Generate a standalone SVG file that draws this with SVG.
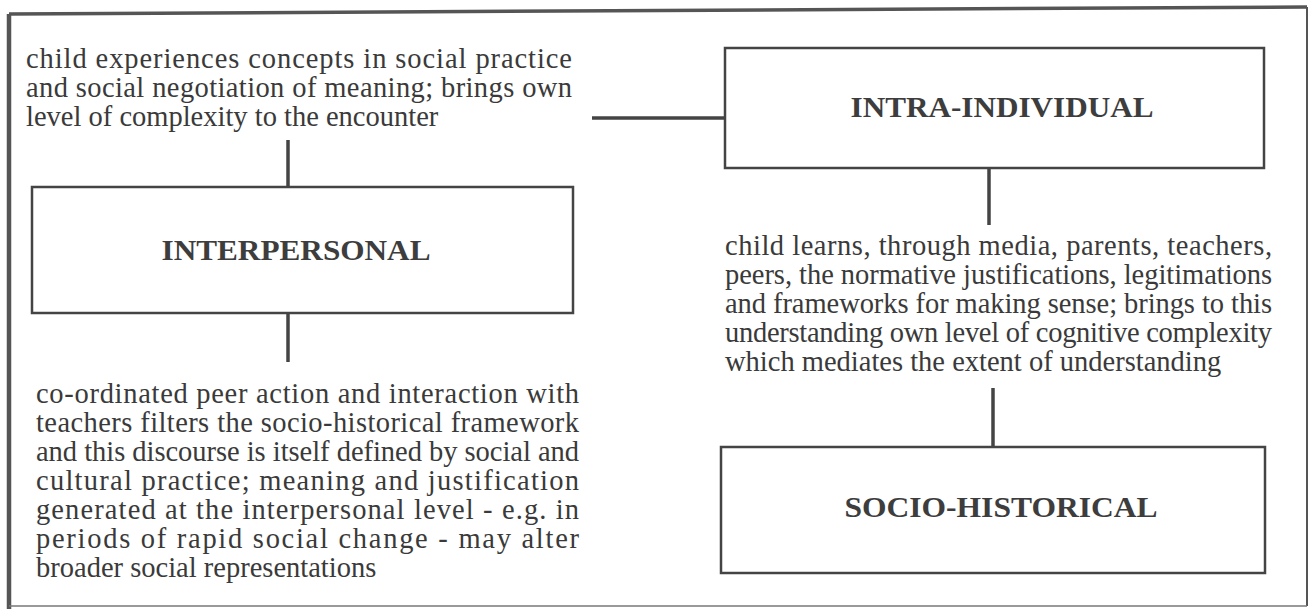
<svg xmlns="http://www.w3.org/2000/svg" width="1309" height="609" viewBox="0 0 1309 609">
<style>
.body{font-family:"Liberation Serif","Times New Roman",serif;font-size:28.5px;fill:#3a3a3a}
.label{font-family:"Liberation Serif","Times New Roman",serif;font-size:30px;font-weight:bold;fill:#3d3d3d;text-anchor:middle}
.box{fill:none;stroke:#444;stroke-width:2.5}
.conn{fill:none;stroke:#444;stroke-width:3.5}
</style>
<rect width="1309" height="609" fill="#fff"/>
<g id="frame">
<path d="M9,14 L1307,7" stroke="#555" stroke-width="3.5" fill="none"/>
<path d="M9,14 L9,609" stroke="#555" stroke-width="4.5" fill="none"/>
<path d="M1307,7 L1307,606" stroke="#555" stroke-width="2" fill="none"/>
<path d="M9,606 L1307,606" stroke="#777" stroke-width="1.5" fill="none"/>
</g>
<g id="connectors">
<line class="conn" x1="592" y1="118" x2="725" y2="118"/>
<line class="conn" x1="288" y1="140" x2="288" y2="187"/>
<line class="conn" x1="288" y1="313" x2="288" y2="362"/>
<line class="conn" x1="989" y1="168" x2="989" y2="225"/>
<line class="conn" x1="993" y1="388" x2="993" y2="447"/>
</g>
<g id="text-intra-experience">
<text class="body" x="26" y="68" textLength="546" lengthAdjust="spacing">child experiences concepts in social practice</text>
<text class="body" x="26" y="97" textLength="546" lengthAdjust="spacing">and social negotiation of meaning; brings own</text>
<text class="body" x="26" y="126">level of complexity to the encounter</text>
</g>
<g id="node-intra-individual">
<rect class="box" x="725" y="48" width="539" height="120"/>
<text class="label" x="1002" y="117" textLength="303" lengthAdjust="spacingAndGlyphs">INTRA-INDIVIDUAL</text>
</g>
<g id="node-interpersonal">
<rect class="box" x="32" y="187" width="541" height="126"/>
<text class="label" x="296" y="260" textLength="269" lengthAdjust="spacingAndGlyphs">INTERPERSONAL</text>
</g>
<g id="text-learning">
<text class="body" x="725" y="255" textLength="547" lengthAdjust="spacing">child learns, through media, parents, teachers,</text>
<text class="body" x="725" y="284" textLength="547" lengthAdjust="spacing">peers, the normative justifications, legitimations</text>
<text class="body" x="725" y="313" textLength="547" lengthAdjust="spacing">and frameworks for making sense; brings to this</text>
<text class="body" x="725" y="342" textLength="547" lengthAdjust="spacing">understanding own level of cognitive complexity</text>
<text class="body" x="725" y="371">which mediates the extent of understanding</text>
</g>
<g id="text-coordinated">
<text class="body" x="36" y="403" textLength="543" lengthAdjust="spacing">co-ordinated peer action and interaction with</text>
<text class="body" x="36" y="432" textLength="543" lengthAdjust="spacing">teachers filters the socio-historical framework</text>
<text class="body" x="36" y="461" textLength="543" lengthAdjust="spacing">and this discourse is itself defined by social and</text>
<text class="body" x="36" y="490" textLength="543" lengthAdjust="spacing">cultural practice; meaning and justification</text>
<text class="body" x="36" y="519" textLength="543" lengthAdjust="spacing">generated at the interpersonal level - e.g. in</text>
<text class="body" x="36" y="548" textLength="543" lengthAdjust="spacing">periods of rapid social change - may alter</text>
<text class="body" x="36" y="577">broader social representations</text>
</g>
<g id="node-socio-historical">
<rect class="box" x="721" y="447" width="544" height="126"/>
<text class="label" x="1001" y="517" textLength="313" lengthAdjust="spacingAndGlyphs">SOCIO-HISTORICAL</text>
</g>
</svg>
